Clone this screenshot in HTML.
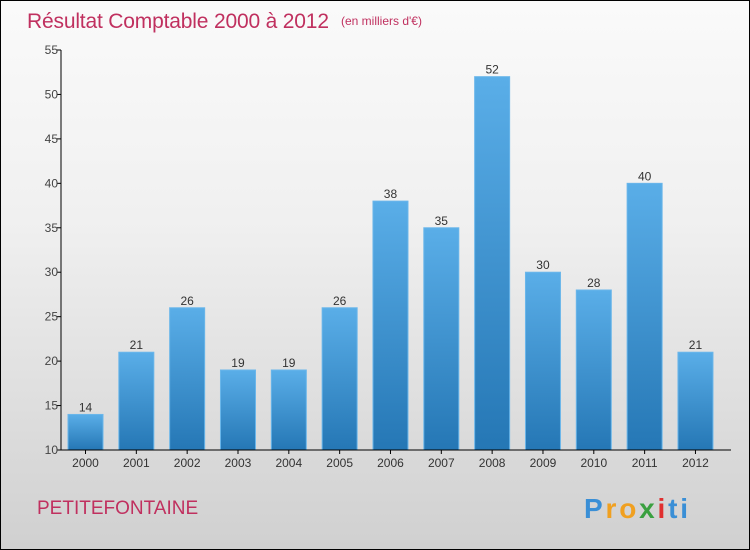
<!DOCTYPE html>
<html><head><style>
body{margin:0}
#c{width:748px;height:548px;border:1px solid #000;background:linear-gradient(#fafafa,#f0f0f0 40%,#d0d0d0);position:relative;overflow:hidden}
text{font-family:"Liberation Sans",sans-serif}
</style></head><body>
<div id="c">
<svg id="s" width="748" height="548"></svg>
</div>
<script>
const categories=["2000","2001","2002","2003","2004","2005","2006","2007","2008","2009","2010","2011","2012"];
const values=[14,21,26,19,19,26,38,35,52,30,28,40,21];
const ticks=[10,15,20,25,30,35,40,45,50,55];
const NS="http://www.w3.org/2000/svg";
const s=document.getElementById('s');
function el(t,a,txt){const e=document.createElementNS(NS,t);for(const k in a)e.setAttribute(k,a[k]);if(txt!=null)e.textContent=txt;s.appendChild(e);return e;}
const y=v=>449-(v-10)*(400/45);
const x=i=>67+i*50.83;
const defs=el('defs',{});
defs.innerHTML='<linearGradient id="g" x1="0" y1="0" x2="0" y2="1"><stop offset="0" stop-color="#5aaee8"/><stop offset="1" stop-color="#2577b5"/></linearGradient>';
let t=el('text',{x:26,y:27,'font-size':21,fill:'#c0305f',textLength:302});
t.textContent='Résultat Comptable 2000 à 2012';

t=el('text',{x:340,y:24,'font-size':12,fill:'#c0305f'},'(en milliers d\'€)');

values.forEach((v,i)=>{
 const r=el('rect',{x:x(i),y:y(v),width:35,height:y(10)-y(v),fill:'url(#g)',stroke:'#6ab6ea','stroke-width':1});
 
 
 const l=el('text',{x:x(i)+17.5,y:y(v)-3,'font-size':12,fill:'#333','text-anchor':'middle'},String(v));
 
 
 const c=el('text',{x:x(i)+17.5,y:466,'font-size':12,fill:'#333','text-anchor':'middle'},categories[i]);
 
 
 el('line',{x1:x(i)+17.5,x2:x(i)+17.5,y1:449,y2:453,stroke:'#000'});
});
ticks.forEach(v=>{
 el('line',{x1:56,x2:60,y1:y(v),y2:y(v),stroke:'#000'});
 const tl=el('text',{x:57,y:y(v)+4,'font-size':12,fill:'#444','text-anchor':'end'},String(v));
 
 
});
const ya=el('line',{x1:60,x2:60,y1:y(55),y2:449,stroke:'#000'});

const xa=el('line',{x1:60,x2:730,y1:449,y2:449,stroke:'#000'});

t=el('text',{x:36,y:513,'font-size':19,fill:'#c0305f'},'PETITEFONTAINE');

const g=el('text',{x:583,y:517,'font-size':28,'font-weight':'bold',textLength:104});

[["P","#3a8fd6"],["ro","#f0a020"],["x","#3aa040"],["i","#e03030"],["ti","#3a8fd6"]].forEach(p=>{const ts=document.createElementNS(NS,'tspan');ts.setAttribute('fill',p[1]);ts.textContent=p[0];g.appendChild(ts);});
</script>
</body></html>
